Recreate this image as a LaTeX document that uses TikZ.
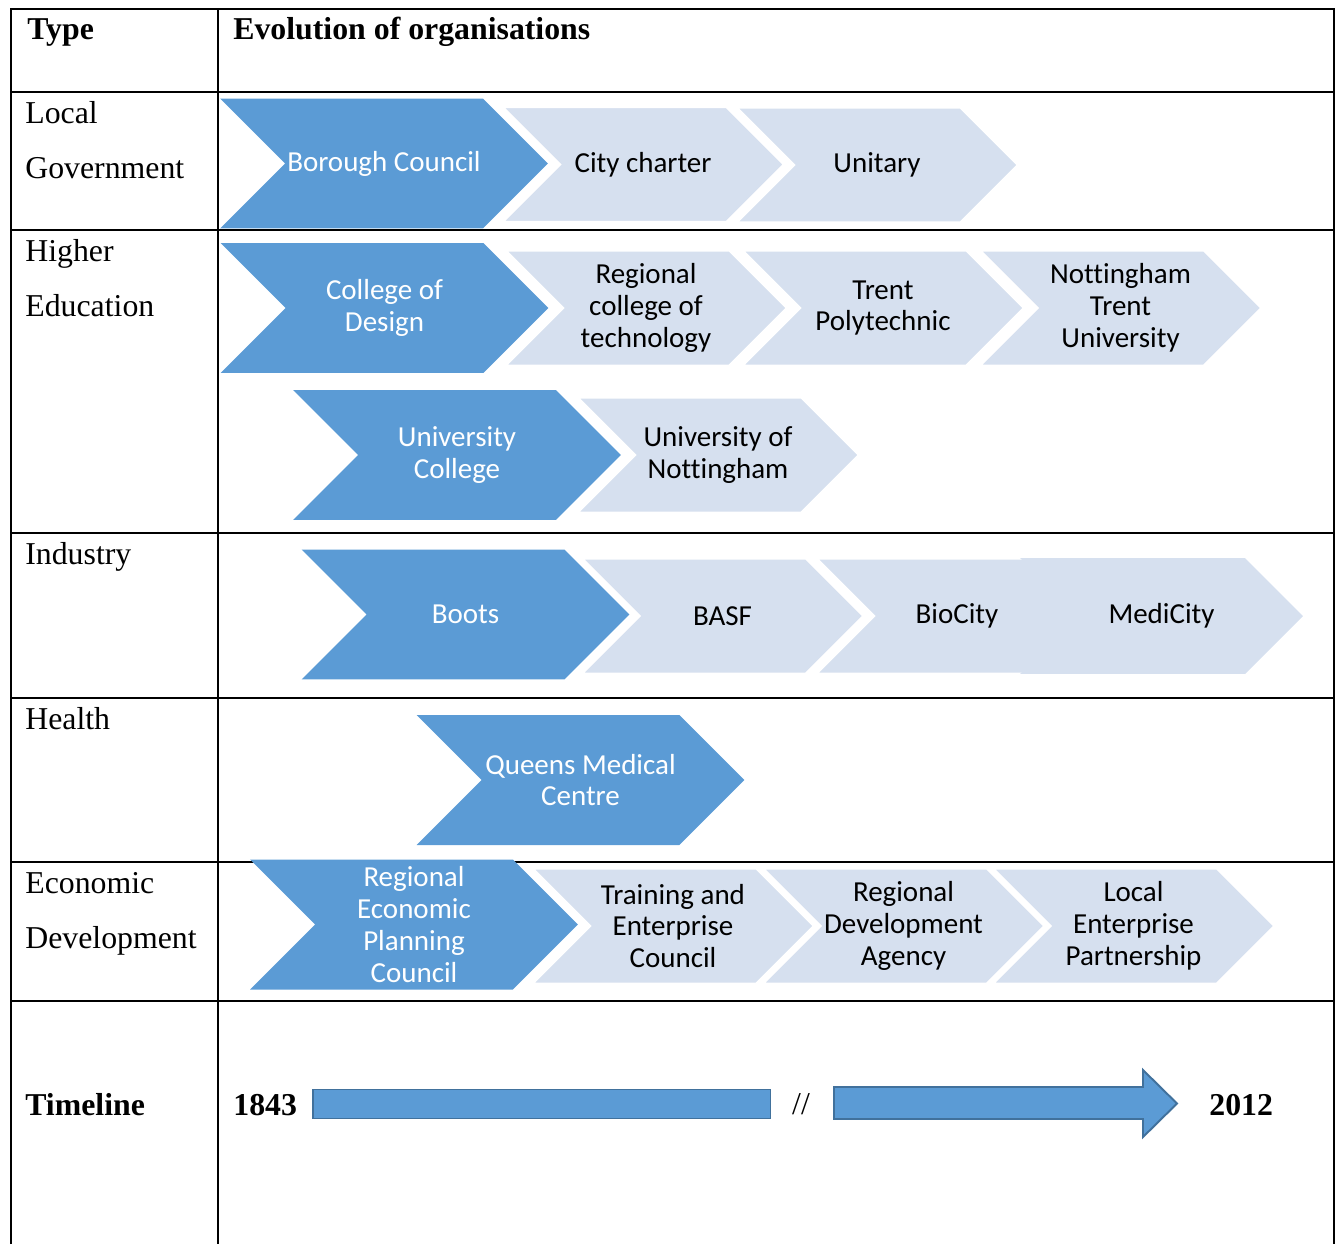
\documentclass[tikz,border=0pt]{standalone}
\usepackage{fontspec}
\setmainfont{Liberation Serif}
\newfontfamily\chevfont[Ligatures=NoCommon]{Carlito}
\usetikzlibrary{shapes.symbols}
\definecolor{chevdark}{HTML}{5B9BD5}
\definecolor{chevlight}{HTML}{D6E0EF}
\definecolor{barline}{HTML}{41719C}

\begin{document}
\begin{tikzpicture}[x=0.02cm, y=-0.02cm,
    chev/.style={signal, signal to=east, signal from=west, signal pointer angle=90, inner sep=0pt, align=center, font=\chevfont\fontsize{16.5}{18.1}\selectfont},
    darkchev/.style={chev, fill=chevdark, text=white, minimum width=6.56cm, minimum height=2.6cm},
    lightchev/.style={chev, fill=chevlight, draw=white, line width=1.7pt, text=black, minimum width=5.66cm, minimum height=2.32cm},
    rowtext/.style={inner sep=0pt, align=left, font=\fontsize{18.1}{31.2}\selectfont},
    tableline/.style={line width=1.15pt},
    timebar/.style={draw=barline, fill=chevdark, line width=1.1pt}]
            \useasboundingbox (0,0) rectangle (1341,1244);

            % Table grid
            \draw [tableline] (11,1244) -- (11,9) -- (1334,9) -- (1334,1244);
            \draw [tableline] (218,9) -- (218,1244);
            \foreach \y in {92,230,533,698,862,1001}
                \draw [tableline] (11,\y) -- (1334,\y);

            % Header and row labels
            \node [rowtext, anchor=base west] (typehead) at (27,39) {\textbf{Type}};
            \node [rowtext, anchor=base west] (evohead) at (233,39) {\textbf{Evolution of organisations}};
            \node [rowtext, anchor=north west] (localgov) at (25,101) {Local\\Government};
            \node [rowtext, anchor=north west] (higheredu) at (25,239) {Higher\\Education};
            \node [rowtext, anchor=north west] (industry) at (25,542) {Industry};
            \node [rowtext, anchor=north west] (health) at (25,707) {Health};
            \node [rowtext, anchor=north west] (econdev) at (25,872) {Economic\\Development};
            \node [rowtext, anchor=base west] (timeline) at (25,1115) {\textbf{Timeline}};

            % Local government
            \node [darkchev] (borough) at (384,163.5) {Borough Council};
            \node [lightchev] (citycharter) at (643,164.5) {City charter};
            \node [lightchev] (unitary) at (877,165) {Unitary};

            % Higher education
            \node [darkchev] (design) at (384.5,308) {College of\\Design};
            \node [lightchev] (regcollege) at (646,308) {Regional\\college of\\technology};
            \node [lightchev] (trentpoly) at (883,308) {Trent\\Polytechnic};
            \node [lightchev] (ntu) at (1120.5,308) {Nottingham\\Trent\\University};
            \node [darkchev] (unicollege) at (457,455) {University\\College};
            \node [lightchev] (uon) at (718,455) {University of\\Nottingham};

            % Industry
            \node [darkchev] (boots) at (465.5,614.5) {Boots};
            \node [lightchev] (basf) at (722.5,616) {BASF};
            \node [lightchev] (biocity) at (957,616) {BioCity};
            \node [lightchev, draw=none] (medicity) at (1161.5,616) {MediCity};

            % Health
            \node [darkchev] (qmc) at (580.5,780) {Queens Medical\\Centre};

            % Economic development
            \node [darkchev] (repc) at (414,924.5) {Regional\\Economic\\Planning\\Council};
            \node [lightchev] (tec) at (673,926) {Training and\\Enterprise\\Council};
            \node [lightchev] (rda) at (903.5,926) {Regional\\Development\\Agency};
            \node [lightchev] (lep) at (1133.5,926) {Local\\Enterprise\\Partnership};

            % Timeline
            \node [rowtext, anchor=base west] (start) at (233,1115) {\textbf{1843}};
            \node [rectangle, timebar, minimum width=9.16cm, minimum height=0.58cm, inner sep=0pt] (bar) at (541.5,1104) {};
            \node [rowtext] (gap) at (801,1104) {//};
            \draw [timebar] (834,1087) -- (1143,1087) -- (1143,1070) -- (1177,1103.5) -- (1143,1137) -- (1143,1119) -- (834,1119) -- cycle;
            \node [rowtext, anchor=base west] (finish) at (1209,1115) {\textbf{2012}};
        \end{tikzpicture}
\end{document}
